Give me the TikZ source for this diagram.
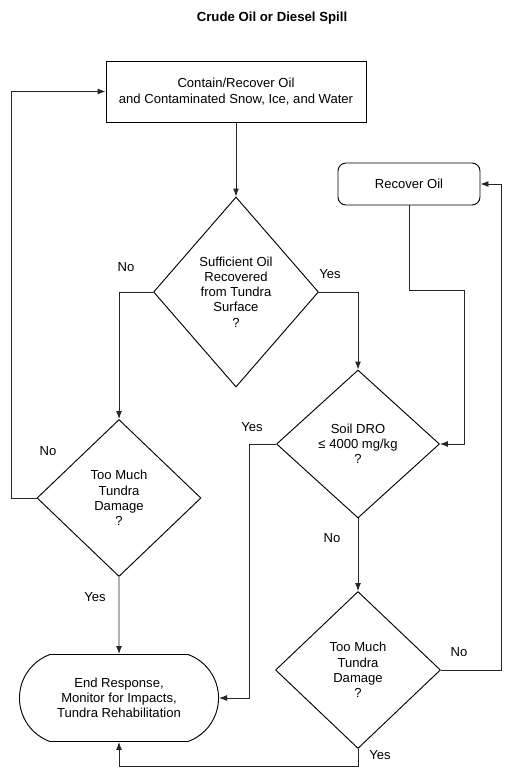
\documentclass[tikz,border=0pt]{standalone}
\usepackage{fontspec}
\setmainfont{Liberation Sans}
\usepackage{tikz}
\usetikzlibrary{shapes.geometric, shapes.misc, positioning, calc, arrows.meta}
\tikzstyle{process}=[rectangle, minimum width=195pt, minimum height=45.75pt, text centered, align=center, draw=black, line width=0.7pt]
\tikzstyle{recover}=[rectangle, rounded corners=6pt, minimum width=106.5pt, minimum height=31.5pt, text centered, draw=black, line width=0.7pt]
\tikzstyle{decision}=[diamond, inner sep=0pt, text centered, align=center, draw=black, line width=0.7pt]
\tikzstyle{terminal}=[rounded rectangle, rounded rectangle arc length=140, minimum width=156pt, minimum height=65.25pt, text centered, align=center, draw=black, line width=0.7pt]
\tikzstyle{arrow}=[line width=0.7pt, draw=black!85, ->, >={Latex[length=6pt, width=4.5pt]}]
\tikzstyle{answer}=[inner sep=0pt]

\begin{document}
\begin{tikzpicture}[x=0.75pt, y=-0.75pt, font=\fontsize{9.8}{11.4}\selectfont]
	\useasboundingbox (0,0) rectangle (517,775);

	\node[font=\fontsize{9.9}{12}\selectfont\bfseries] (title) at (272,18) {Crude Oil or Diesel Spill};

	\node[process, font=\fontsize{9.8}{12}\selectfont] (contain) at (236,91.5) {Contain/Recover Oil\\and Contaminated Snow, Ice, and Water};
	\node[decision, minimum width=123.75pt, minimum height=142.5pt] (sufficient) at (236,292) {Sufficient Oil\\Recovered\\from Tundra\\Surface\\?};
	\node[decision, minimum width=123pt, minimum height=117.75pt] (damageA) at (119,498) {Too Much\\Tundra\\Damage\\?};
	\node[decision, minimum width=122.25pt, minimum height=111pt] (soil) at (358,444) {Soil DRO\\≤ 4000 mg/kg\\?};
	\node[decision, minimum width=123.75pt, minimum height=117.75pt] (damageB) at (358,670) {Too Much\\Tundra\\Damage\\?};
	\node[recover] (recoveroil) at (409,184) {Recover Oil};
	\node[terminal] (endresp) at (119,698) {End Response,\\Monitor for Impacts,\\Tundra Rehabilitation};
	\coordinate (bend) at (464,290);

	% connectors
	\draw[arrow] (contain) -- (sufficient);
	\draw[arrow] (sufficient.west) -| (damageA.north);
	\draw[arrow] (damageA.west) -- ++(-25,0) |- (contain.west);
	\draw[arrow] (damageA) -- (endresp);
	\draw[arrow] (sufficient.east) -| (soil.north);
	\draw[arrow] (soil.west) -- ++(-27,0) |- (endresp.east);
	\draw[arrow] (soil) -- (damageB);
	\draw[arrow] (damageB.east) -- ++(60,0) |- (recoveroil.east);
	\draw[arrow] (recoveroil.south) |- (bend) |- (soil.east);
	\draw[arrow] (damageB.south) -- ++(0,17) -| (endresp.south);

	% answers
	\node[answer] (noA) at (126,267) {No};
	\node[answer] (yesA) at (330,274) {Yes};
	\node[answer] (noB) at (48,451) {No};
	\node[answer] (yesB) at (95,597) {Yes};
	\node[answer] (yesC) at (252,427) {Yes};
	\node[answer] (noC) at (332,538) {No};
	\node[answer] (noD) at (459,652) {No};
	\node[answer] (yesD) at (380,755) {Yes};
\end{tikzpicture}
\end{document}
